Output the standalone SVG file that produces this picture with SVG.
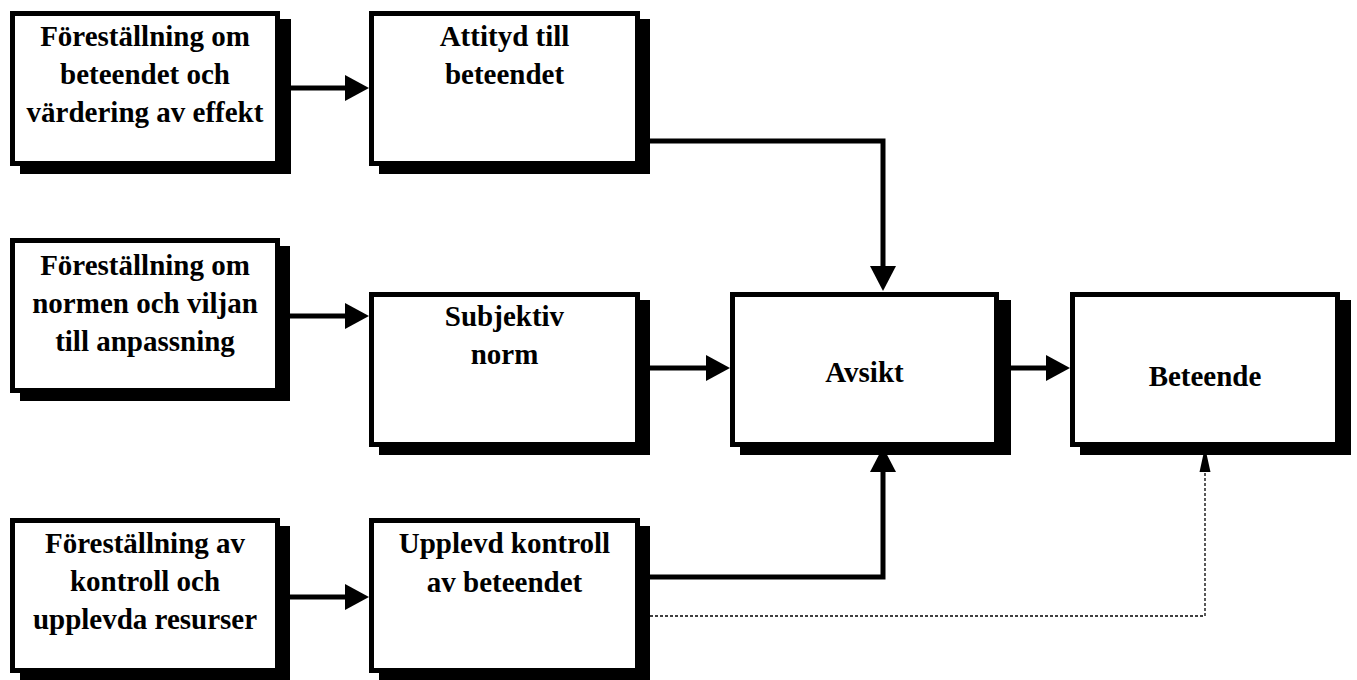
<svg xmlns="http://www.w3.org/2000/svg" width="1357" height="680" viewBox="0 0 1357 680">
<style>
.sh{fill:#000}
.bx{fill:#fff;stroke:#000;stroke-width:5}
.t{font-family:"Liberation Serif","Times New Roman",serif;font-weight:bold;font-size:29px;fill:#000;text-anchor:middle}
.c{fill:none;stroke:#000;stroke-width:5}
.d{fill:none;stroke:#000;stroke-width:1.3;stroke-dasharray:3 2}
.ah{fill:#000}
</style>
<rect width="1357" height="680" fill="#fff"/>
<g id="connectors">
<line class="c" x1="285" y1="88" x2="347" y2="88"/>
<polygon class="ah" points="369,88 345,75 345,101"/>
<line class="c" x1="285" y1="316" x2="347" y2="316"/>
<polygon class="ah" points="369,316 345,303 345,329"/>
<line class="c" x1="285" y1="597" x2="347" y2="597"/>
<polygon class="ah" points="369,597 345,584 345,610"/>
<path class="c" d="M645,141 H883 V268"/>
<polygon class="ah" points="883,291 870,266 896,266"/>
<line class="c" x1="645" y1="368" x2="708" y2="368"/>
<polygon class="ah" points="730,368 706,355 706,381"/>
<line class="c" x1="1005" y1="368" x2="1048" y2="368"/>
<polygon class="ah" points="1070,368 1046,355 1046,381"/>
<path class="c" d="M645,577 H883 V470"/>
<polygon class="ah" points="883,447 870,472 896,472"/>
<path class="d" d="M645,616 H1205 V470"/>
<polygon class="ah" points="1205,447 1199.5,472 1210.5,472"/>
</g>
<g id="n1">
<rect class="sh" x="20" y="19" width="271" height="155"/>
<rect class="bx" x="12.5" y="13.5" width="265" height="150"/>
<text class="t" x="145" y="46">Föreställning om</text>
<text class="t" x="145" y="84">beteendet och</text>
<text class="t" x="145" y="122">värdering av effekt</text>
</g>
<g id="n2">
<rect class="sh" x="379" y="19" width="271" height="155"/>
<rect class="bx" x="371.5" y="13.5" width="266" height="150"/>
<text class="t" x="504.5" y="46">Attityd till</text>
<text class="t" x="504.5" y="84">beteendet</text>
</g>
<g id="n3">
<rect class="sh" x="20" y="246" width="270" height="155"/>
<rect class="bx" x="12.5" y="240.5" width="265" height="150"/>
<text class="t" x="145" y="275">Föreställning om</text>
<text class="t" x="145" y="313">normen och viljan</text>
<text class="t" x="145" y="351">till anpassning</text>
</g>
<g id="n4">
<rect class="sh" x="379" y="300" width="271" height="155"/>
<rect class="bx" x="371.5" y="294.5" width="266" height="150"/>
<text class="t" x="504.5" y="326">Subjektiv</text>
<text class="t" x="504.5" y="364">norm</text>
</g>
<g id="n5">
<rect class="sh" x="740" y="300" width="271" height="155"/>
<rect class="bx" x="732.5" y="294.5" width="264" height="150"/>
<text class="t" x="864.5" y="382">Avsikt</text>
</g>
<g id="n6">
<rect class="sh" x="1080" y="300" width="271" height="155"/>
<rect class="bx" x="1072.5" y="294.5" width="265" height="150"/>
<text class="t" x="1205" y="386">Beteende</text>
</g>
<g id="n7">
<rect class="sh" x="20" y="526" width="270" height="155"/>
<rect class="bx" x="12.5" y="520.5" width="265" height="150"/>
<text class="t" x="145" y="553">Föreställning av</text>
<text class="t" x="145" y="591">kontroll och</text>
<text class="t" x="145" y="629">upplevda resurser</text>
</g>
<g id="n8">
<rect class="sh" x="379" y="526" width="271" height="155"/>
<rect class="bx" x="371.5" y="520.5" width="266" height="150"/>
<text class="t" x="504.5" y="553">Upplevd kontroll</text>
<text class="t" x="504.5" y="592">av beteendet</text>
</g>
</svg>
